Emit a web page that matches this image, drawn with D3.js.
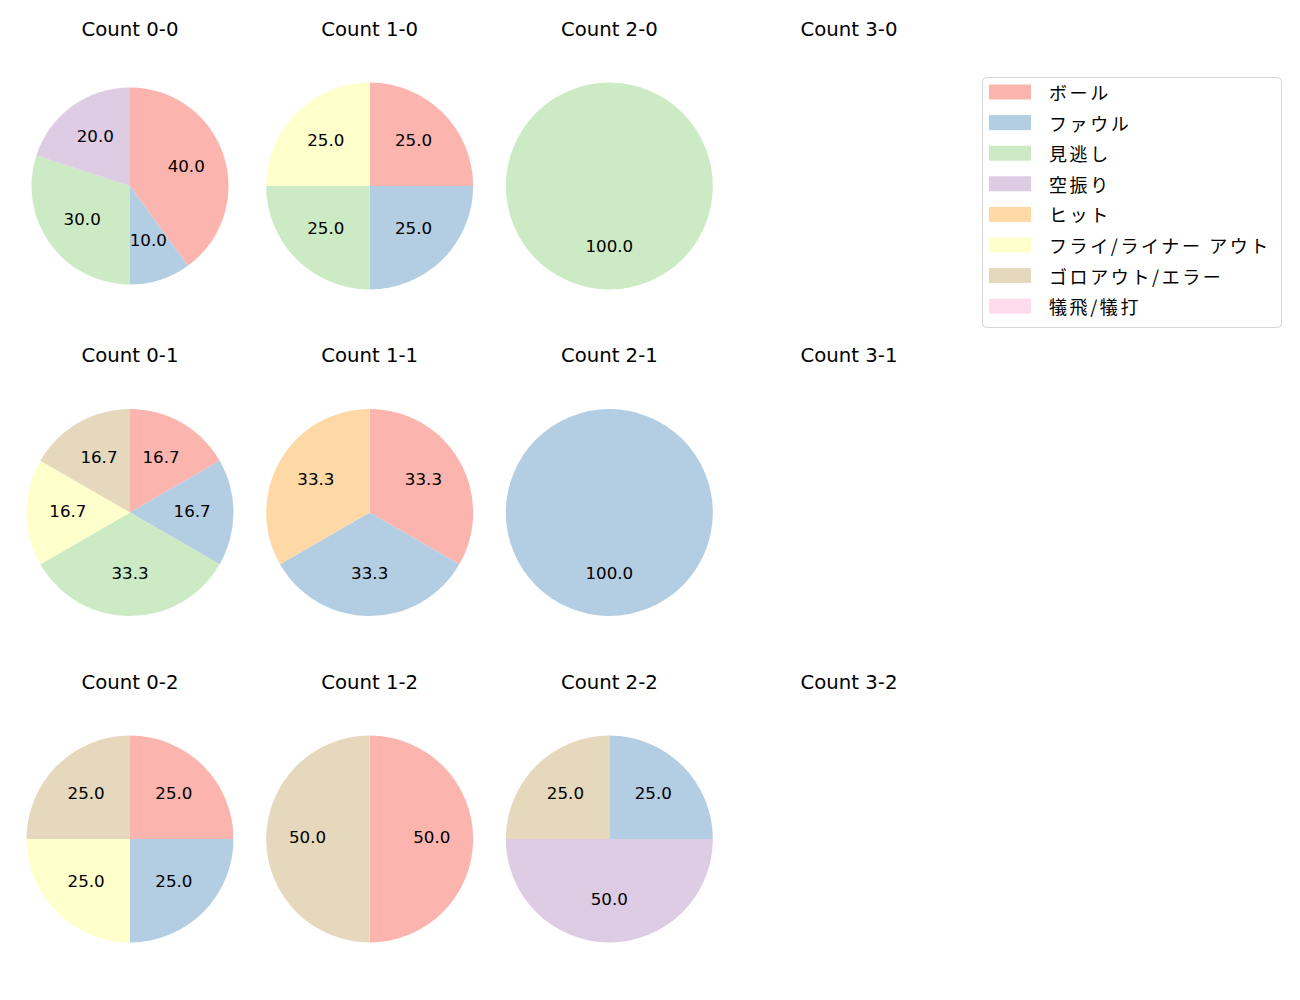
<!DOCTYPE html>
<html>
<head>
<meta charset="utf-8">
<script src="https://cdn.jsdelivr.net/npm/d3@7"></script>
<style>
  body { margin: 0; background: #fff; }
  text { font-family: "DejaVu Sans", "Noto Sans CJK JP", sans-serif; fill: #000; }
  .legend-text { font-family: "Noto Sans CJK JP", sans-serif; }
</style>
</head>
<body>
<svg id="chart"></svg>
<script>
// categories and colours (matplotlib Pastel1)
const categories = ['ボール', 'ファウル', '見逃し', '空振り', 'ヒット', 'フライ/ライナー アウト', 'ゴロアウト/エラー', '犠飛/犠打'];
const colors = ['#fbb4ae', '#b3cde3', '#ccebc5', '#decbe4', '#fed9a6', '#ffffcc', '#e5d8bd', '#fddaec'];

const balls = [0, 1, 2, 3];
const strikes = [0, 1, 2];

// pitch counts per category, keyed by "balls-strikes"
const counts = {
  '0-0': [4, 1, 3, 2, 0, 0, 0, 0],
  '1-0': [1, 1, 1, 0, 0, 1, 0, 0],
  '2-0': [0, 0, 1, 0, 0, 0, 0, 0],
  '3-0': [0, 0, 0, 0, 0, 0, 0, 0],
  '0-1': [1, 1, 2, 0, 0, 1, 1, 0],
  '1-1': [1, 1, 0, 0, 1, 0, 0, 0],
  '2-1': [0, 1, 0, 0, 0, 0, 0, 0],
  '3-1': [0, 0, 0, 0, 0, 0, 0, 0],
  '0-2': [1, 1, 0, 0, 0, 1, 1, 0],
  '1-2': [1, 0, 0, 0, 0, 0, 1, 0],
  '2-2': [0, 1, 0, 2, 0, 0, 1, 0],
  '3-2': [0, 0, 0, 0, 0, 0, 0, 0]
};

const width = 1300, height = 1000;
const svg = d3.select('#chart').attr('width', width).attr('height', height);

const xScale = d3.scalePoint().domain(balls).range([130, 849]);
const yScale = d3.scalePoint().domain(strikes).range([186, 839]);
const colorScale = d3.scaleOrdinal().domain(categories).range(colors);

const radius = 103.5;

const pie = d3.pie()
  .sort(null)
  .value(d => d.value)
  .startAngle(0)
  .endAngle(2 * Math.PI);

strikes.forEach(s => {
  balls.forEach(b => {
    const key = `${b}-${s}`;
    const g = svg.append('g').attr('transform', `translate(${xScale(b)},${yScale(s)})`);

    g.append('text')
      .attr('class', 'title')
      .attr('x', 0)
      .attr('y', -157)
      .attr('text-anchor', 'middle')
      .attr('dominant-baseline', 'central')
      .style('font-size', '19.7px')
      .text(`Count ${key}`);

    const vals = counts[key].map((v, i) => ({ cat: categories[i], value: v })).filter(d => d.value > 0);
    if (!vals.length) return;
    const total = d3.sum(vals, d => d.value);
    const r = key === '0-0' ? 98.5 : radius;

    const arc = d3.arc().innerRadius(0).outerRadius(r);
    const arcs = pie(vals);

    g.selectAll('path')
      .data(arcs)
      .join('path')
      .attr('d', arc)
      .attr('fill', d => colorScale(d.data.cat));

    g.selectAll('text.lbl')
      .data(arcs)
      .join('text')
      .attr('class', 'lbl')
      .attr('x', d => 0.6 * r * Math.sin((d.startAngle + d.endAngle) / 2))
      .attr('y', d => -0.6 * r * Math.cos((d.startAngle + d.endAngle) / 2))
      .attr('dy', '-0.12em')
      .attr('text-anchor', 'middle')
      .attr('dominant-baseline', 'central')
      .style('font-size', '16.7px')
      .text(d => (d.data.value / total * 100).toFixed(1));
  });
});

// legend
const legend = svg.append('g').attr('transform', 'translate(982,77)');
legend.append('rect')
  .attr('x', 0.5).attr('y', 0.5)
  .attr('width', 299).attr('height', 250)
  .attr('rx', 4)
  .attr('fill', '#fff')
  .attr('stroke', '#d6d6d6');

const item = legend.selectAll('g.item')
  .data(categories)
  .join('g')
  .attr('class', 'item')
  .attr('transform', (d, i) => `translate(0,${15 + i * 30.6})`);

item.append('rect')
  .attr('x', 7).attr('y', -7.5)
  .attr('width', 42).attr('height', 15)
  .attr('fill', d => colorScale(d));

item.append('text')
  .attr('class', 'legend-text')
  .attr('x', 67)
  .attr('y', 0)
  .attr('dominant-baseline', 'central')
  .style('font-size', '18px')
  .style('letter-spacing', '2.6px')
  .text(d => d);
</script>
</body>
</html>
